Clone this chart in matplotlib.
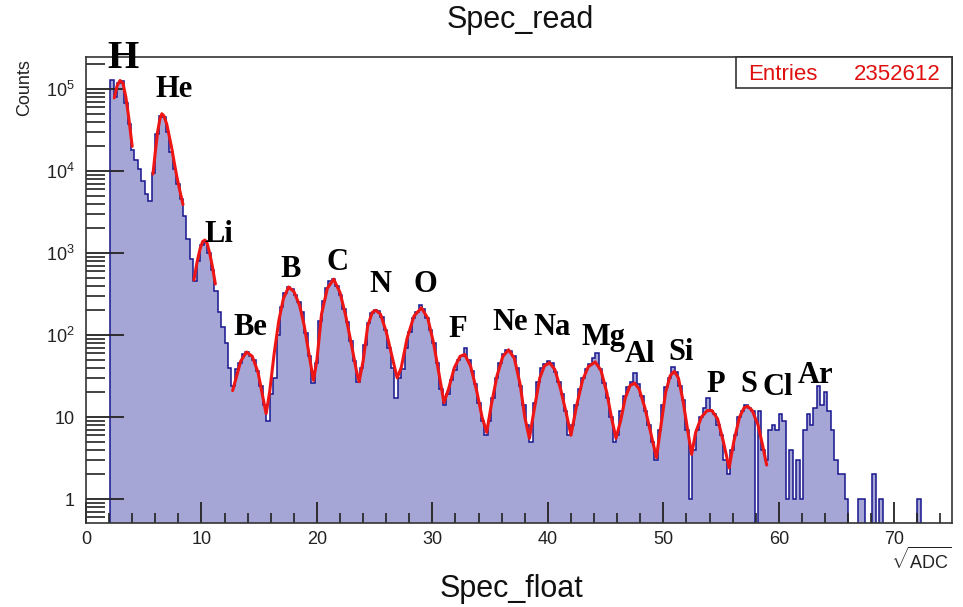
import numpy as np
import matplotlib
matplotlib.use('Agg')
import matplotlib.pyplot as plt
from matplotlib.ticker import FixedLocator, LogLocator, NullFormatter, FixedFormatter
from matplotlib.patches import Rectangle

plt.rcParams['font.family'] = ['Liberation Sans', 'DejaVu Sans']
plt.rcParams['mathtext.fontset'] = 'custom'
plt.rcParams['mathtext.rm'] = 'Liberation Sans'
plt.rcParams['mathtext.it'] = 'Liberation Sans:italic'

# histogram: bins of 0.3 starting at 2.1 (sqrt ADC)
bin_start = 2.1
bin_width = 0.3
counts = [
    129000, 80000, 118000, 125000, 68000, 38000, 18000, 13500, 10500, 7600,
    5200, 4300, 9500, 28000, 47000, 46000, 30000, 17000, 10500, 6900,
    4600, 2800, 1500, 850, 460, 800, 1250, 1420, 1000, 620,
    340, 190, 125, 80, 40, 24, 38, 45, 58, 62,
    56, 50, 36, 24, 14, 9, 19, 30, 100, 220,
    330, 385, 360, 310, 250, 190, 105, 55, 26, 45,
    150, 260, 370, 460, 480, 400, 310, 210, 145, 85,
    48, 27, 40, 75, 140, 185, 200, 195, 165, 115,
    70, 40, 17, 30, 38, 70, 110, 160, 190, 230,
    205, 160, 115, 80, 45, 22, 14, 19, 28, 37,
    50, 55, 69, 50, 36, 25, 15, 9, 6, 9,
    17, 30, 45, 58, 66, 64, 55, 40, 24, 14,
    8, 5, 15, 27, 40, 44, 48, 46, 35, 27,
    19, 12, 6, 8, 14, 22, 30, 38, 44, 52,
    60, 38, 26, 17, 10, 5, 6, 12, 18, 23,
    27, 34, 25, 18, 12, 8, 5, 3, 7, 14,
    23, 30, 41, 35, 24, 16, 7, 1, 4, 7,
    10, 13, 17, 12, 11, 8, 6, 3, 2, 4,
    6, 10, 12, 14, 13, 12, 0, 12, 4, 3,
    7, 8, 7, 11, 9, 1, 4, 1, 3, 1,
    7, 11, 8, 13, 24, 14, 20, 12, 7, 3, 2, 2, 1,
    0, 0, 0, 1, 1, 0, 0, 2, 0, 1, 0, 0, 0, 0, 0, 0, 0, 0, 0, 0, 1,
]
entries = 2352612

# fitted curves
fit_h_x = [2.45, 2.7, 2.95, 3.2, 3.45, 3.7, 4.0]
fit_h_y = [78000, 110000, 127000, 118000, 80000, 45000, 20000]
fit_he_x = [5.8, 6.0, 6.2, 6.4, 6.57, 6.75, 7.0, 7.2, 7.44, 7.65, 7.87, 8.1, 8.4]
fit_he_y = [9200, 17000, 30000, 43000, 50000, 47000, 37000, 27000, 18500, 12500, 8500, 6000, 3900]
fit_li_x = [9.35, 9.6, 9.86, 10.1, 10.3, 10.5, 10.73, 10.95, 11.2]
fit_li_y = [470, 750, 1100, 1380, 1440, 1300, 970, 680, 420]
fit_z_x = [12.7, 13.0, 13.4, 13.9, 14.4, 14.9, 15.3, 15.6,
           15.9, 16.3, 16.7, 17.1, 17.55, 18.0, 18.5, 18.9, 19.3, 19.7,
           20.0, 20.4, 20.9, 21.45, 22.0, 22.5, 23.0, 23.4, 23.65,
           24.0, 24.4, 24.8, 25.1, 25.5, 26.0, 26.5, 26.95,
           27.3, 27.8, 28.4, 29.05, 29.6, 30.1, 30.6, 31.0,
           31.4, 31.9, 32.4, 32.8, 33.3, 33.8, 34.3, 34.7,
           35.1, 35.6, 36.1, 36.6, 37.1, 37.6, 38.0, 38.4,
           38.8, 39.3, 39.7, 40.15, 40.6, 41.1, 41.6, 42.0,
           42.5, 43.0, 43.5, 44.1, 44.6, 45.1, 45.5, 45.9,
           46.3, 46.7, 47.1, 47.5, 47.9, 48.4, 48.9, 49.4,
           49.8, 50.2, 50.6, 50.95, 51.3, 51.7, 52.1, 52.45,
           52.8, 53.3, 53.8, 54.2, 54.7, 55.2, 55.7,
           56.1, 56.6, 57.0, 57.3, 57.7, 58.2, 58.6, 58.95]
fit_z_y = [21, 30, 48, 62, 55, 35, 18, 11,
           20, 60, 150, 280, 385, 340, 230, 130, 60, 28,
           50, 180, 370, 480, 330, 170, 75, 38, 27,
           48, 130, 190, 200, 180, 110, 55, 30,
           40, 90, 170, 215, 160, 80, 32, 15,
           22, 40, 55, 58, 42, 22, 10, 6.5,
           14, 32, 55, 66, 52, 25, 10, 5.5,
           12, 30, 42, 46, 38, 22, 11, 6,
           14, 28, 41, 47, 37, 20, 10, 5.5,
           9, 17, 24, 26, 22, 13, 6.5, 3.2,
           8, 20, 32, 36, 30, 16, 7, 3.5,
           6.5, 10, 12, 12, 9.5, 5, 2.4,
           5, 10, 13, 13.5, 12, 8, 4.5, 2.6]

elements = ['H', 'He', 'Li', 'Be', 'B', 'C', 'N', 'O', 'F', 'Ne', 'Na',
            'Mg', 'Al', 'Si', 'P', 'S', 'Cl', 'Ar']
# label anchor (pixel x centre, pixel baseline y)
label_px = [(123, 68), (174, 97), (219, 242), (250, 335), (291, 277),
            (337, 270), (380, 292), (425, 292), (458, 337), (510, 330),
            (552, 335), (603, 345), (640, 362), (681, 360), (716, 392),
            (749, 392), (778, 395), (816, 383)]

W, H = 963, 607
fig = plt.figure(figsize=(W / 100, H / 100), dpi=100)
ax = fig.add_axes([86 / W, 1 - 523 / H, 866 / W, 466 / H])

counts = np.array(counts, dtype=float)
edges = bin_start + bin_width * np.arange(len(counts) + 1)
vals = np.where(counts > 0, counts, 1e-3)
ax.stairs(vals, edges, baseline=1e-3, fill=True, color='#a5a5d6', lw=0)
ax.stairs(vals, edges, baseline=1e-3, color='#16168e', lw=1.1)

for fx, fy in [(fit_h_x, fit_h_y), (fit_he_x, fit_he_y),
               (fit_li_x, fit_li_y), (fit_z_x, fit_z_y)]:
    ax.plot(fx, fy, color='#ee1515', lw=2.2, solid_capstyle='round')

ax.set_yscale('log')
ax.set_xlim(0, 75)
ax.set_ylim(0.51, 2.46e5)

ax.xaxis.set_major_locator(FixedLocator(np.arange(0, 71, 10)))
ax.xaxis.set_minor_locator(FixedLocator(np.arange(0, 75, 2)))
ax.yaxis.set_major_locator(FixedLocator([1, 10, 100, 1e3, 1e4, 1e5]))
ax.yaxis.set_major_formatter(FixedFormatter(['1', '10', '$10^{2}$', '$10^{3}$',
                                             '$10^{4}$', '$10^{5}$']))
ax.yaxis.set_minor_locator(LogLocator(base=10, subs=np.arange(2, 10)))
ax.yaxis.set_minor_formatter(NullFormatter())

ax.tick_params(axis='both', which='both', direction='in', colors='#222222',
               labelsize=13, top=False, right=False)
ax.tick_params(axis='y', which='major', length=27, width=1.3, pad=8)
ax.tick_params(axis='y', which='minor', length=14, width=1.2)
ax.tick_params(axis='x', which='major', length=15, width=1.3, pad=6)
ax.tick_params(axis='x', which='minor', length=7.5, width=1.2)
for s in ax.spines.values():
    s.set_color('#333333')
    s.set_linewidth(1.2)

# stats box
fig.patches.append(Rectangle((736 / W, 1 - 88 / H), 216 / W, 31 / H,
                             transform=fig.transFigure, facecolor='white',
                             edgecolor='#333333', lw=1.2, zorder=5))
fig.text(748 / W, 1 - 80 / H, 'Entries', color='#e01010', fontsize=16,
         ha='left', va='baseline', zorder=6)
fig.text(941 / W, 1 - 80 / H, str(entries), color='#e01010', fontsize=16,
         ha='right', va='baseline', zorder=6)

for name, (px, py) in zip(elements, label_px):
    fig.text(px / W, 1 - py / H, name, ha='center', va='baseline',
             fontfamily='Liberation Serif', fontweight='bold',
             fontsize=29 if name == 'H' else 22, color='black')

fig.text(520 / W, 1 - 28 / H, 'Spec_read', ha='center', va='baseline',
         fontsize=22, color='#111111')
fig.text(511 / W, 1 - 597 / H, 'Spec_float', ha='center', va='baseline',
         fontsize=22, color='#111111')
fig.text(25 / W, 1 - 88 / H, 'Counts', rotation=90, ha='center', va='center',
         fontsize=13, color='#222222')
fig.text(952 / W, 1 - 569 / H, r'$\sqrt{\mathrm{ADC}}$', ha='right',
         va='baseline', fontsize=13, color='#222222')

fig.savefig('out.png', dpi=100)
